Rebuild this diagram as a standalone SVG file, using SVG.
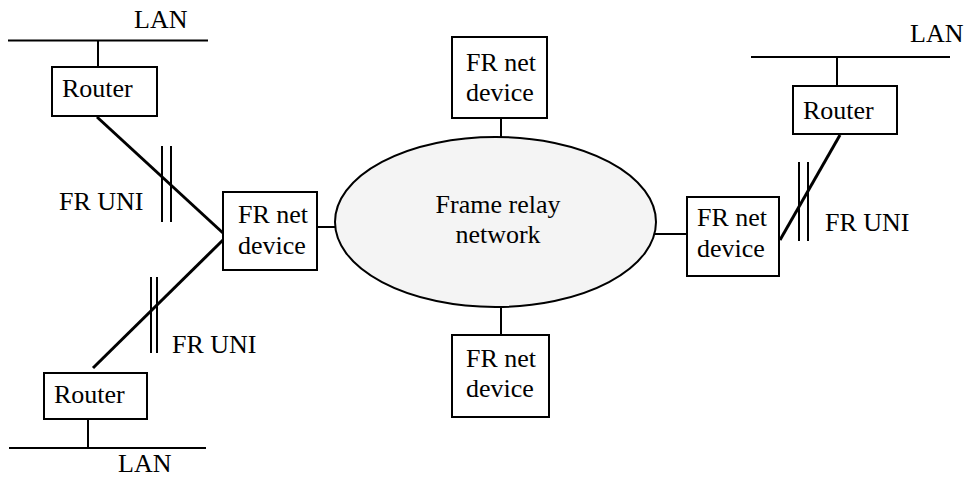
<svg xmlns="http://www.w3.org/2000/svg" width="966" height="477" viewBox="0 0 966 477">
<style>
text{font-family:"Liberation Serif","Times New Roman",serif;font-size:26px;fill:#000}
.box{fill:#fff;stroke:#000;stroke-width:2}
.ln{stroke:#000;stroke-width:2;fill:none}
.thick{stroke:#000;stroke-width:3;fill:none}
</style>
<rect width="966" height="477" fill="#fff"/>
<g id="connectors">
<line class="ln" x1="8" y1="40.5" x2="208" y2="40.5"/>
<line class="ln" x1="98" y1="40.5" x2="98" y2="67"/>
<line class="thick" x1="97" y1="117" x2="223" y2="233"/>
<line class="ln" x1="162" y1="146" x2="162" y2="222"/>
<line class="ln" x1="171" y1="146" x2="171" y2="222"/>
<line class="thick" x1="223" y1="240" x2="93" y2="368"/>
<line class="ln" x1="151" y1="277" x2="151" y2="353"/>
<line class="ln" x1="157" y1="277" x2="157" y2="353"/>
<line class="ln" x1="88" y1="419" x2="88" y2="448"/>
<line class="ln" x1="9" y1="448" x2="206" y2="448"/>
<line class="ln" x1="317" y1="227" x2="336" y2="227"/>
<line class="ln" x1="501" y1="118" x2="501" y2="137"/>
<line class="ln" x1="501" y1="307" x2="501" y2="335"/>
<line class="ln" x1="655" y1="234" x2="687" y2="234"/>
<line class="ln" x1="751" y1="57" x2="950" y2="57"/>
<line class="ln" x1="837" y1="57" x2="837" y2="86"/>
<line class="thick" x1="840" y1="135" x2="780" y2="240"/>
<line class="ln" x1="799" y1="162" x2="799" y2="241"/>
<line class="ln" x1="808" y1="162" x2="808" y2="241"/>
</g>
<g id="lan-top-left"><text x="134" y="28">LAN</text></g>
<g id="router-top-left"><rect class="box" x="52" y="67" width="105" height="49"/><text x="62" y="97">Router</text></g>
<g id="fruni-1"><text x="59" y="210">FR UNI</text></g>
<g id="fr-left"><rect class="box" x="223" y="192" width="94" height="78"/><text x="238" y="223">FR net</text><text x="238" y="254">device</text></g>
<g id="fruni-2"><text x="172" y="353">FR UNI</text></g>
<g id="router-bottom-left"><rect class="box" x="44" y="373" width="103" height="46"/><text x="54" y="403">Router</text></g>
<g id="lan-bottom-left"><text x="118" y="472">LAN</text></g>
<g id="network"><ellipse cx="495.5" cy="222" rx="160.5" ry="85" fill="#f4f4f4" stroke="#000" stroke-width="2"/><text x="498" y="213" text-anchor="middle">Frame relay</text><text x="498" y="243" text-anchor="middle">network</text></g>
<g id="fr-top"><rect class="box" x="452" y="37" width="95" height="81"/><text x="466" y="71">FR net</text><text x="466" y="101">device</text></g>
<g id="fr-bottom"><rect class="box" x="452" y="335" width="97" height="82"/><text x="466" y="367">FR net</text><text x="466" y="397">device</text></g>
<g id="fr-right"><rect class="box" x="687" y="197" width="92" height="79"/><text x="697" y="226">FR net</text><text x="697" y="257">device</text></g>
<g id="router-right"><rect class="box" x="793" y="86" width="104" height="48"/><text x="803" y="119">Router</text></g>
<g id="lan-right"><text x="910" y="42">LAN</text></g>
<g id="fruni-3"><text x="825" y="231">FR UNI</text></g>
</svg>
